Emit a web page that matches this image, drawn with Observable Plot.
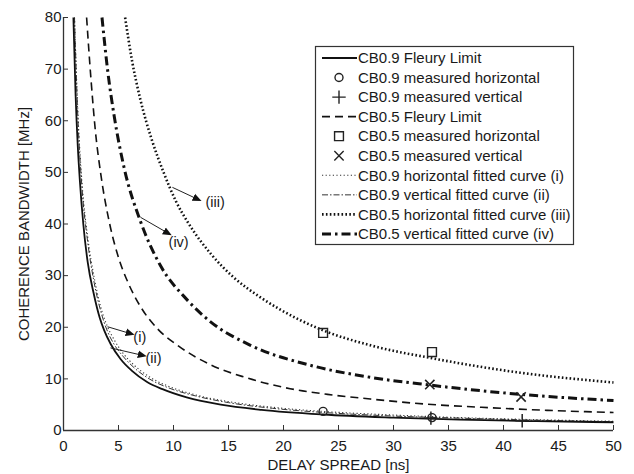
<!DOCTYPE html>
<html><head><meta charset="utf-8">
<script src="https://cdn.jsdelivr.net/npm/d3@7"></script>
<script src="https://cdn.jsdelivr.net/npm/@observablehq/plot@0.6"></script>
<style>body{margin:0;background:#fff;}</style>
</head><body><div id="chart"></div>
<script>
// ---- data ----
const fleury09X = [0.9, 1.1, 1.3, 1.5, 1.8, 2.2, 2.75, 3.3, 3.7, 4.3, 5.2, 6.2, 7.6, 9.0, 11.2, 14.3, 18, 23.6, 30, 36, 43, 50];
const fleury09Y = [80, 65, 55, 48, 40, 32.6, 26.5, 21.8, 19.4, 16.7, 13.8, 11.6, 9.4, 8.0, 6.4, 5.0, 4.0, 3.1, 2.5, 2.1, 1.8, 1.6];

const fit09hX = [1.0, 1.3, 1.7, 2.2, 2.8, 3.4, 4.0, 4.6, 5.4, 6.4, 7.8, 9.5, 12, 15, 19, 23.6, 30, 36, 43, 50];
const fit09hY = [80, 62, 47.5, 37.5, 29.5, 23.8, 20.1, 17.6, 15.0, 12.7, 10.4, 8.6, 6.9, 5.6, 4.5, 3.7, 3.0, 2.5, 2.1, 1.8];

const fit09vX = [1.0, 1.3, 1.7, 2.2, 2.8, 3.4, 4.0, 4.6, 5.4, 6.4, 7.8, 9.5, 12, 15, 19, 23.6, 30, 36, 43, 50];
const fit09vY = [80, 61, 46.5, 36.5, 28.5, 23.0, 19.2, 16.7, 14.4, 12.2, 10.0, 8.3, 6.7, 5.4, 4.3, 3.5, 2.8, 2.4, 2.0, 1.7];

const fleury05X = [2.1, 2.5, 2.9, 3.4, 4.2, 5.0, 5.9, 7.0, 8.5, 10.5, 13.4, 16.5, 20.6, 24, 27.9, 33, 38, 44, 50];
const fleury05Y = [80, 68, 58, 49.5, 40, 33.5, 28.5, 24, 19.8, 16.3, 12.7, 10.3, 8.1, 7.0, 6.1, 5.1, 4.5, 3.9, 3.5];

const fit05hX = [5.6, 6.2, 7.0, 8.0, 9.1, 10.2, 11.4, 13.4, 15.5, 17.9, 21.5, 23.6, 27.9, 33.5, 41.5, 50];
const fit05hY = [80, 72, 64, 56.5, 50, 44.5, 40, 34.2, 29.6, 25.8, 21.4, 19.4, 16.5, 14.0, 11.2, 9.3];

const fit05vX = [3.5, 4.0, 4.6, 5.5, 7.0, 8.8, 11.2, 13.4, 17.0, 22.5, 27.9, 33.3, 41.5, 50];
const fit05vY = [80, 70, 61, 51, 40.5, 32.0, 25.4, 21.0, 16.5, 12.6, 10.3, 8.8, 7.0, 5.8];

const meas09hX = [23.6, 33.5];   const meas09hY = [3.7, 2.5];
const meas09vX = [33.4, 41.7];   const meas09vY = [2.4, 1.9];
const meas05hX = [23.6, 33.5];   const meas05hY = [18.9, 15.2];
const meas05vX = [33.3, 41.6];   const meas05vY = [8.9, 6.5];

const annLabels = ["(i)", "(ii)", "(iii)", "(iv)"];
const annFromX = [4.0, 4.27, 9.9, 7.0];
const annFromY = [20.1, 16.0, 47.1, 41.3];
const annToX   = [6.2, 7.3, 12.3, 9.6];
const annToY   = [18.7, 14.5, 44.7, 38.1];
const annTextX = [6.35, 7.45, 12.9, 9.55];
const annTextY = [18.1, 13.9, 44.2, 36.4];

const xTicks = [0, 5, 10, 15, 20, 25, 30, 35, 40, 45, 50];
const yTicks = [0, 10, 20, 30, 40, 50, 60, 70, 80];
const xLabel = "DELAY SPREAD [ns]";
const yLabel = "COHERENCE BANDWIDTH [MHz]";
const legendLabels = [
  "CB0.9 Fleury Limit", "CB0.9 measured horizontal", "CB0.9 measured vertical",
  "CB0.5 Fleury Limit", "CB0.5 measured horizontal", "CB0.5 measured vertical",
  "CB0.9 horizontal fitted curve (i)", "CB0.9 vertical fitted curve (ii)",
  "CB0.5 horizontal fitted curve (iii)", "CB0.5 vertical fitted curve (iv)"
];

// ---- helpers ----
const pts = (xs, ys) => xs.map((x, i) => ({x, y: ys[i]}));
const anns = annLabels.map((label, i) => ({label, x1: annFromX[i], y1: annFromY[i], x2: annToX[i], y2: annToY[i], tx: annTextX[i], ty: annTextY[i]}));

const FONT = "'Liberation Sans', Arial, Helvetica, sans-serif";
const INK = "#1a1a1a";

const styles = {
  f09: {stroke: "#111", strokeWidth: 1.8},
  f05: {stroke: "#111", strokeWidth: 1.6, strokeDasharray: "8,5"},
  i:   {stroke: "#333", strokeWidth: 1.1, strokeDasharray: "1.2,2.4"},
  ii:  {stroke: "#333", strokeWidth: 1, strokeDasharray: "6,2,1.5,2"},
  iii: {stroke: "#111", strokeWidth: 2.6, strokeDasharray: "1.6,2.3"},
  iv:  {stroke: "#111", strokeWidth: 3, strokeDasharray: "9,4,2.5,4"}
};
const lineOpts = (s) => ({x: "x", y: "y", curve: "monotone-x", fill: "none", strokeLinecap: "butt", ...s});

const plot = Plot.plot({
  width: 634, height: 474,
  marginLeft: 63, marginRight: 21, marginTop: 17, marginBottom: 44,
  x: {domain: [0, 50]},
  y: {domain: [0, 80]},
  style: {fontFamily: FONT, fontSize: "15px", color: INK, background: "#fff"},
  marks: [
    Plot.line(pts(fit09hX, fit09hY), lineOpts(styles.i)),
    Plot.line(pts(fit09vX, fit09vY), lineOpts(styles.ii)),
    Plot.line(pts(fleury09X, fleury09Y), lineOpts(styles.f09)),
    Plot.line(pts(fleury05X, fleury05Y), lineOpts(styles.f05)),
    Plot.line(pts(fit05hX, fit05hY), lineOpts(styles.iii)),
    Plot.line(pts(fit05vX, fit05vY), lineOpts(styles.iv)),
    Plot.dot(pts(meas09hX, meas09hY), {x: "x", y: "y", symbol: "circle", r: 4, stroke: "#222", fill: "none", strokeWidth: 1.4}),
    Plot.dot(pts(meas09vX, meas09vY), {x: "x", y: "y", symbol: "plus", r: 4.4, stroke: "#222", strokeWidth: 1.5}),
    Plot.dot(pts(meas05hX, meas05hY), {x: "x", y: "y", symbol: "square", r: 5, stroke: "#222", fill: "none", strokeWidth: 1.4}),
    Plot.dot(pts(meas05vX, meas05vY), {x: "x", y: "y", symbol: "times", r: 4.3, stroke: "#222", strokeWidth: 1.6}),
    Plot.link(anns, {x1: "x1", y1: "y1", x2: "x2", y2: "y2", stroke: "#222", strokeWidth: 1, markerEnd: "arrow"}),
    Plot.text(anns, {x: "tx", y: "ty", text: "label", textAnchor: "start", fill: INK, fontSize: 14.5}),
    // axes
    Plot.ruleY([0], {stroke: "#333", strokeWidth: 1.3}),
    Plot.ruleX([0], {stroke: "#333", strokeWidth: 1.3}),
    Plot.axisX({ticks: xTicks, tickSize: 0, tickPadding: 10, label: null, fill: INK}),
    Plot.axisX({ticks: xTicks, tickSize: 5, dy: -5, tickFormat: () => "", label: null, stroke: "#333"}),
    Plot.axisY({ticks: yTicks, tickSize: 0, tickPadding: 2, label: null, fill: INK}),
    Plot.axisY({ticks: yTicks, tickSize: 5, dx: 5, tickFormat: () => "", label: null, stroke: "#333"}),
    Plot.text([xLabel], {frameAnchor: "bottom", dy: 35, textAnchor: "middle", lineAnchor: "middle", fill: INK, fontSize: 15}),
    Plot.text([yLabel], {frameAnchor: "left", dx: -39, rotate: -90, textAnchor: "middle", lineAnchor: "middle", fill: INK, fontSize: 15})
  ]
});

document.getElementById("chart").appendChild(plot);

// filled arrowheads
const svg = d3.select(plot);
svg.selectAll("marker").attr("markerWidth", 12).attr("markerHeight", 12)
  .attr("fill", "#111").attr("stroke", "none")
  .select("path").attr("d", "M-5,-3.2L2.5,0L-5,3.2Z");

// legend (inside plot area, top-right)
const legendKinds = ["f09", "circle", "plus", "f05", "square", "times", "i", "ii", "iii", "iv"];
const lg = svg.append("g").attr("font-family", FONT).attr("font-size", 15).attr("fill", INK).attr("text-anchor", "start");
lg.append("rect").attr("x", 315.5).attr("y", 46.5).attr("width", 258).attr("height", 198)
  .attr("fill", "#fff").attr("stroke", "#333").attr("stroke-width", 1.2);
const symbolMap = {circle: d3.symbolCircle, plus: d3.symbolPlus, square: d3.symbolSquare, times: d3.symbolTimes};
const symbolR = {circle: 4, plus: 4.4, square: 5, times: 4.3};
legendLabels.forEach((label, i) => {
  const y = 58 + 19.55 * i;
  const k = legendKinds[i];
  if (styles[k]) {
    const s = styles[k];
    lg.append("line").attr("x1", 322).attr("x2", 357).attr("y1", y).attr("y2", y)
      .attr("stroke", s.stroke).attr("stroke-width", s.strokeWidth)
      .attr("stroke-dasharray", s.strokeDasharray || null);
  } else {
    const r = symbolR[k];
    lg.append("path").attr("transform", `translate(339,${y})`)
      .attr("d", d3.symbol(symbolMap[k], Math.PI * r * r)())
      .attr("fill", "none").attr("stroke", "#222").attr("stroke-width", 1.4);
  }
  lg.append("text").attr("x", 358).attr("y", y).attr("dy", "0.35em").attr("text-anchor", "start").text(label);
});
</script>
</body></html>
